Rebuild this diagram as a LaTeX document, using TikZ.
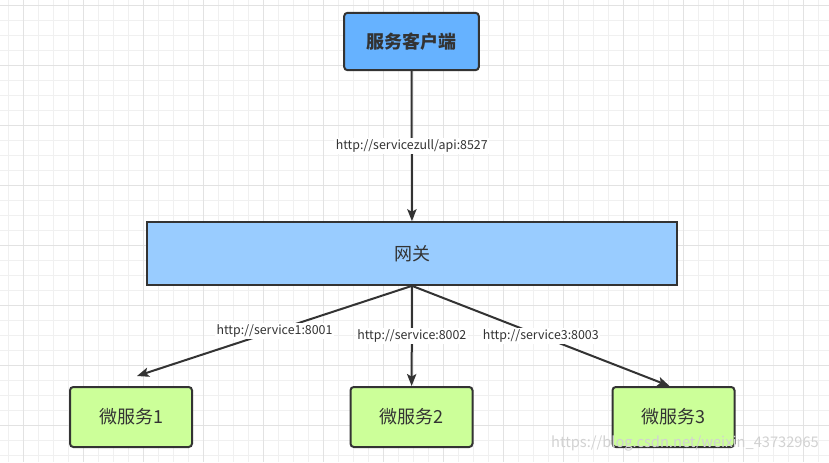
\documentclass[tikz,border=0pt]{standalone}
\usepackage{fontspec}
\setmainfont{Noto Sans CJK SC}
\usetikzlibrary{arrows.meta,positioning}
\definecolor{clientblue}{HTML}{66B2FF}
\definecolor{gatewayblue}{HTML}{99CCFF}
\definecolor{servicegreen}{HTML}{CCFF99}
\definecolor{linegray}{HTML}{333333}
\definecolor{gridminor}{HTML}{F0F0F0}
\definecolor{gridmajor}{HTML}{E2E2E2}

\begin{document}
\begin{tikzpicture}[x=0.75pt,y=-0.75pt,>={Stealth[length=9pt,width=7pt,inset=2pt]},
    box/.style={draw=linegray,line width=1.5pt,rounded corners=2.5pt,align=center,
      font=\fontsize{13.5pt}{16pt}\selectfont,text=linegray},
    link/.style={->,draw=linegray,line width=1.5pt},
    url/.style={fill=white,inner sep=1pt,font=\fontsize{9.3pt}{11pt}\selectfont,text=linegray}]
  \useasboundingbox (0,0) rectangle (829,462);
  % Grid paper
  \fill[white] (0,0) rectangle (829,462);
  \foreach \x in {8,23,...,829} \draw[gridminor,line width=0.75pt] (\x,0) -- (\x,462);
  \foreach \y in {5,20,...,462} \draw[gridminor,line width=0.75pt] (0,\y) -- (829,\y);
  \foreach \x in {23,83,...,829} \draw[gridmajor,line width=0.75pt] (\x,0) -- (\x,462);
  \foreach \y in {5,65,...,462} \draw[gridmajor,line width=0.75pt] (0,\y) -- (829,\y);

  % Client and gateway
  \node[box,fill=clientblue,minimum width=101pt,minimum height=43pt,font=\fontsize{13.5pt}{16pt}\selectfont\bfseries]
    (client) at (411.5,41.5) {服务客户端};
  \node[box,fill=gatewayblue,rounded corners=0pt,minimum width=397.5pt,minimum height=47pt]
    (gateway) at (412,253.5) {网关};

  % Micro services
  \node[box,fill=servicegreen,minimum width=91.5pt,minimum height=45pt] (ms1) at (131,417) {微服务1};
  \node[box,fill=servicegreen,minimum width=91.5pt,minimum height=45pt] (ms2) at (411.5,417) {微服务2};
  \node[box,fill=servicegreen,minimum width=91.5pt,minimum height=45pt] (ms3) at (673.5,417) {微服务3};
  \coordinate (ms1 tip) at (137,376);

  % Routes
  \path (client) edge[link] node[url] {http://servicezull/api:8527} (gateway);
  \path (gateway.south)
  edge[link] node[url] {http://service1:8001} (ms1 tip)
  edge[link] node[url] {http://service:8002} (ms2)
  edge[link] node[url] {http://service3:8003} ([xshift=-3]ms3.north);

  % Watermark
  \node[text=gray!35,font=\fontsize{11pt}{13pt}\selectfont] (mark) at (685,443) {https://blog.csdn.net/weixin\_43732965};
\end{tikzpicture}
\end{document}
